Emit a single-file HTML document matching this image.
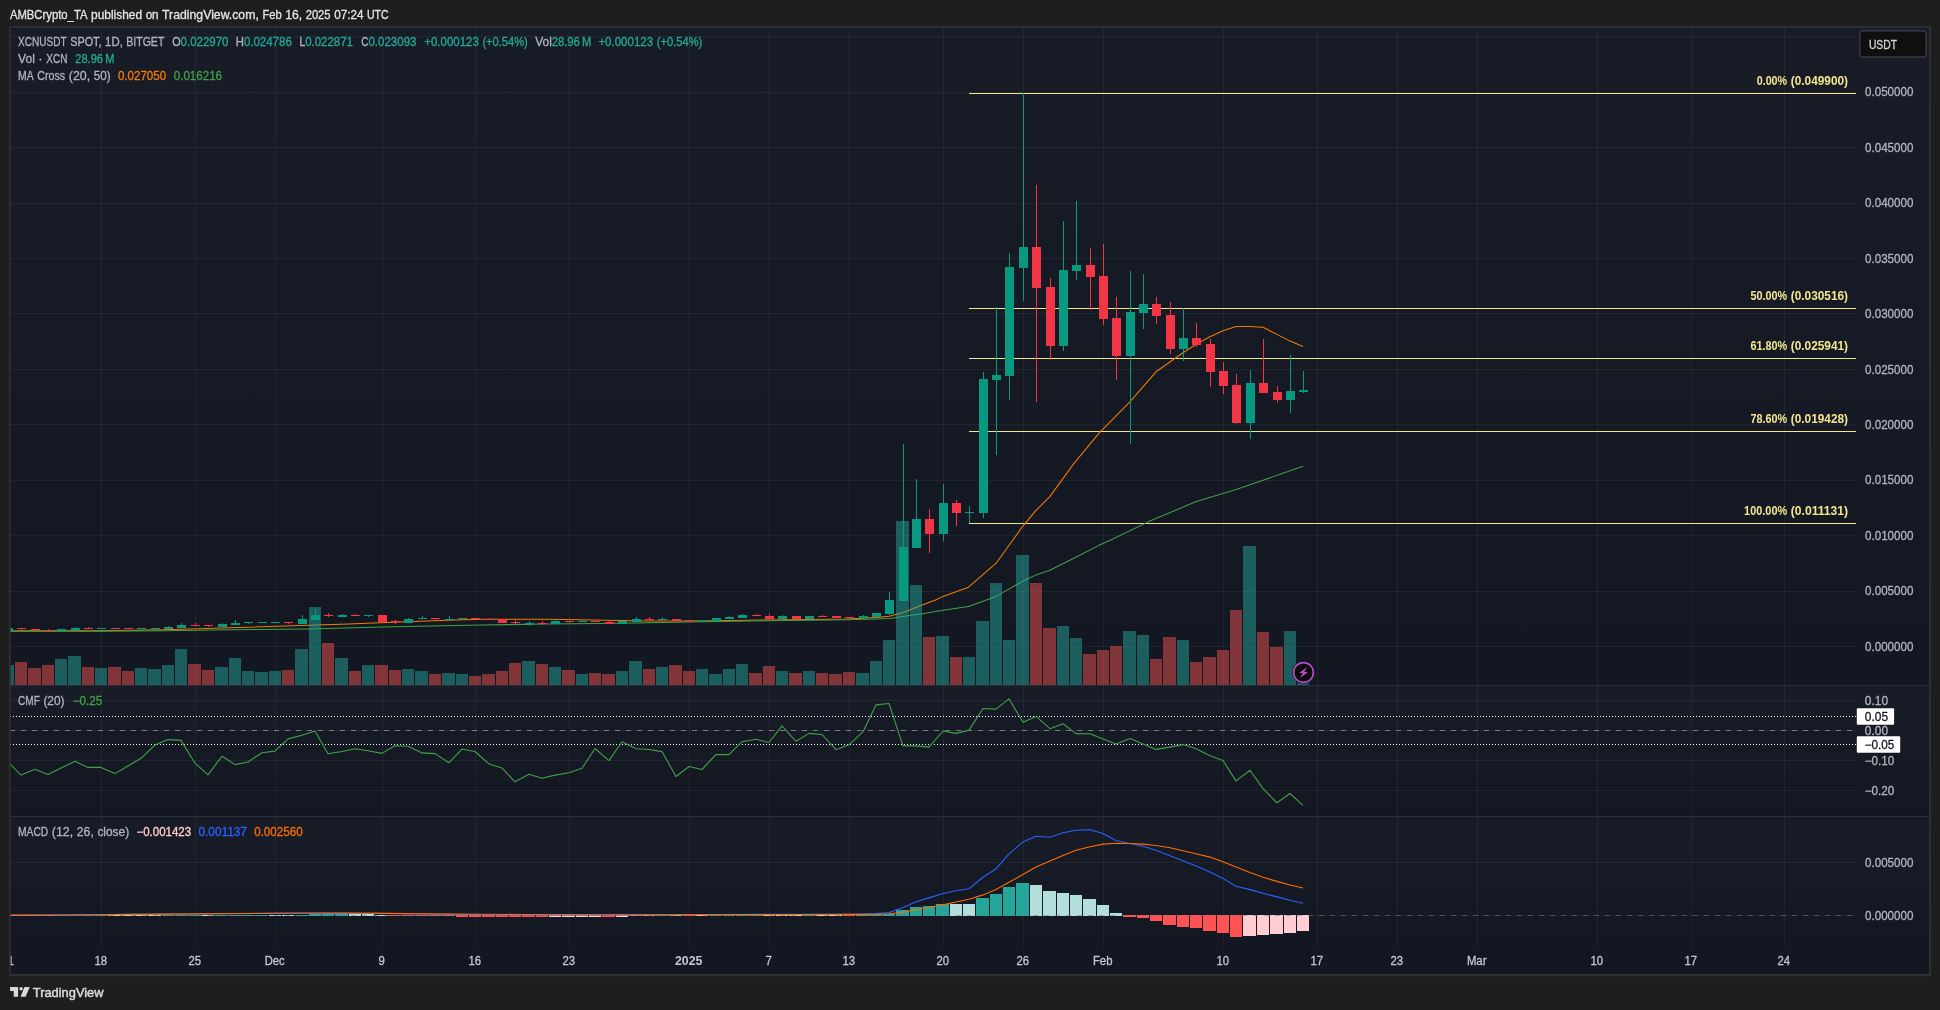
<!DOCTYPE html>
<html lang="en"><head><meta charset="utf-8"><title>XCNUSDT chart</title><style>html,body{margin:0;padding:0;background:#1e1e1e;overflow:hidden}svg{display:block;will-change:transform}text{white-space:pre}</style></head><body>
<svg width="1940" height="1010" viewBox="0 0 1940 1010" font-family="'Liberation Sans', sans-serif" font-size="12" stroke-width="0.3">
<defs>
<linearGradient id="pg" x1="0" y1="0" x2="0" y2="1"><stop offset="0" stop-color="#181c27"/><stop offset="1" stop-color="#131722"/></linearGradient>
<clipPath id="cm"><rect x="10.7" y="27.8" width="1845.3" height="657.2"/></clipPath>
<clipPath id="cc"><rect x="10.7" y="686" width="1845.3" height="130"/></clipPath>
<clipPath id="cd"><rect x="10.7" y="817" width="1845.3" height="130"/></clipPath>
<clipPath id="ct"><rect x="10.7" y="947" width="1845.3" height="27.0"/></clipPath>
</defs>
<rect x="0" y="0" width="1940" height="1010" fill="#1e1e1e"/>
<rect x="9.1" y="26.1" width="1921.8" height="950.2" fill="#303030"/>
<rect x="10.7" y="27.8" width="1918.3" height="657.2" fill="url(#pg)"/>
<rect x="10.7" y="685" width="1918.3" height="1" fill="#2a2e39"/>
<rect x="10.7" y="686" width="1918.3" height="130" fill="url(#pg)"/>
<rect x="10.7" y="816" width="1918.3" height="1" fill="#2a2e39"/>
<rect x="10.7" y="817" width="1918.3" height="130" fill="url(#pg)"/>
<rect x="10.7" y="947" width="1918.3" height="27" fill="#131722"/>
<g shape-rendering="crispEdges">
<rect x="101" y="28" width="1" height="657" fill="rgba(240,243,250,0.06)"/>
<rect x="101" y="686" width="1" height="130" fill="rgba(240,243,250,0.06)"/>
<rect x="101" y="817" width="1" height="130" fill="rgba(240,243,250,0.06)"/>
<rect x="195" y="28" width="1" height="657" fill="rgba(240,243,250,0.06)"/>
<rect x="195" y="686" width="1" height="130" fill="rgba(240,243,250,0.06)"/>
<rect x="195" y="817" width="1" height="130" fill="rgba(240,243,250,0.06)"/>
<rect x="275" y="28" width="1" height="657" fill="rgba(240,243,250,0.06)"/>
<rect x="275" y="686" width="1" height="130" fill="rgba(240,243,250,0.06)"/>
<rect x="275" y="817" width="1" height="130" fill="rgba(240,243,250,0.06)"/>
<rect x="382" y="28" width="1" height="657" fill="rgba(240,243,250,0.06)"/>
<rect x="382" y="686" width="1" height="130" fill="rgba(240,243,250,0.06)"/>
<rect x="382" y="817" width="1" height="130" fill="rgba(240,243,250,0.06)"/>
<rect x="475" y="28" width="1" height="657" fill="rgba(240,243,250,0.06)"/>
<rect x="475" y="686" width="1" height="130" fill="rgba(240,243,250,0.06)"/>
<rect x="475" y="817" width="1" height="130" fill="rgba(240,243,250,0.06)"/>
<rect x="569" y="28" width="1" height="657" fill="rgba(240,243,250,0.06)"/>
<rect x="569" y="686" width="1" height="130" fill="rgba(240,243,250,0.06)"/>
<rect x="569" y="817" width="1" height="130" fill="rgba(240,243,250,0.06)"/>
<rect x="689" y="28" width="1" height="657" fill="rgba(240,243,250,0.06)"/>
<rect x="689" y="686" width="1" height="130" fill="rgba(240,243,250,0.06)"/>
<rect x="689" y="817" width="1" height="130" fill="rgba(240,243,250,0.06)"/>
<rect x="769" y="28" width="1" height="657" fill="rgba(240,243,250,0.06)"/>
<rect x="769" y="686" width="1" height="130" fill="rgba(240,243,250,0.06)"/>
<rect x="769" y="817" width="1" height="130" fill="rgba(240,243,250,0.06)"/>
<rect x="849" y="28" width="1" height="657" fill="rgba(240,243,250,0.06)"/>
<rect x="849" y="686" width="1" height="130" fill="rgba(240,243,250,0.06)"/>
<rect x="849" y="817" width="1" height="130" fill="rgba(240,243,250,0.06)"/>
<rect x="943" y="28" width="1" height="657" fill="rgba(240,243,250,0.06)"/>
<rect x="943" y="686" width="1" height="130" fill="rgba(240,243,250,0.06)"/>
<rect x="943" y="817" width="1" height="130" fill="rgba(240,243,250,0.06)"/>
<rect x="1023" y="28" width="1" height="657" fill="rgba(240,243,250,0.06)"/>
<rect x="1023" y="686" width="1" height="130" fill="rgba(240,243,250,0.06)"/>
<rect x="1023" y="817" width="1" height="130" fill="rgba(240,243,250,0.06)"/>
<rect x="1103" y="28" width="1" height="657" fill="rgba(240,243,250,0.06)"/>
<rect x="1103" y="686" width="1" height="130" fill="rgba(240,243,250,0.06)"/>
<rect x="1103" y="817" width="1" height="130" fill="rgba(240,243,250,0.06)"/>
<rect x="1223" y="28" width="1" height="657" fill="rgba(240,243,250,0.06)"/>
<rect x="1223" y="686" width="1" height="130" fill="rgba(240,243,250,0.06)"/>
<rect x="1223" y="817" width="1" height="130" fill="rgba(240,243,250,0.06)"/>
<rect x="1317" y="28" width="1" height="657" fill="rgba(240,243,250,0.06)"/>
<rect x="1317" y="686" width="1" height="130" fill="rgba(240,243,250,0.06)"/>
<rect x="1317" y="817" width="1" height="130" fill="rgba(240,243,250,0.06)"/>
<rect x="1397" y="28" width="1" height="657" fill="rgba(240,243,250,0.06)"/>
<rect x="1397" y="686" width="1" height="130" fill="rgba(240,243,250,0.06)"/>
<rect x="1397" y="817" width="1" height="130" fill="rgba(240,243,250,0.06)"/>
<rect x="1477" y="28" width="1" height="657" fill="rgba(240,243,250,0.06)"/>
<rect x="1477" y="686" width="1" height="130" fill="rgba(240,243,250,0.06)"/>
<rect x="1477" y="817" width="1" height="130" fill="rgba(240,243,250,0.06)"/>
<rect x="1597" y="28" width="1" height="657" fill="rgba(240,243,250,0.06)"/>
<rect x="1597" y="686" width="1" height="130" fill="rgba(240,243,250,0.06)"/>
<rect x="1597" y="817" width="1" height="130" fill="rgba(240,243,250,0.06)"/>
<rect x="1691" y="28" width="1" height="657" fill="rgba(240,243,250,0.06)"/>
<rect x="1691" y="686" width="1" height="130" fill="rgba(240,243,250,0.06)"/>
<rect x="1691" y="817" width="1" height="130" fill="rgba(240,243,250,0.06)"/>
<rect x="1784" y="28" width="1" height="657" fill="rgba(240,243,250,0.06)"/>
<rect x="1784" y="686" width="1" height="130" fill="rgba(240,243,250,0.06)"/>
<rect x="1784" y="817" width="1" height="130" fill="rgba(240,243,250,0.06)"/>
<rect x="11" y="36" width="1845" height="1" fill="rgba(240,243,250,0.06)"/>
<rect x="11" y="92" width="1845" height="1" fill="rgba(240,243,250,0.06)"/>
<rect x="11" y="147" width="1845" height="1" fill="rgba(240,243,250,0.06)"/>
<rect x="11" y="203" width="1845" height="1" fill="rgba(240,243,250,0.06)"/>
<rect x="11" y="258" width="1845" height="1" fill="rgba(240,243,250,0.06)"/>
<rect x="11" y="313" width="1845" height="1" fill="rgba(240,243,250,0.06)"/>
<rect x="11" y="369" width="1845" height="1" fill="rgba(240,243,250,0.06)"/>
<rect x="11" y="424" width="1845" height="1" fill="rgba(240,243,250,0.06)"/>
<rect x="11" y="480" width="1845" height="1" fill="rgba(240,243,250,0.06)"/>
<rect x="11" y="535" width="1845" height="1" fill="rgba(240,243,250,0.06)"/>
<rect x="11" y="591" width="1845" height="1" fill="rgba(240,243,250,0.06)"/>
<rect x="11" y="646" width="1845" height="1" fill="rgba(240,243,250,0.06)"/>
<rect x="11" y="700" width="1845" height="1" fill="rgba(240,243,250,0.06)"/>
<rect x="11" y="730" width="1845" height="1" fill="rgba(240,243,250,0.06)"/>
<rect x="11" y="760" width="1845" height="1" fill="rgba(240,243,250,0.06)"/>
<rect x="11" y="790" width="1845" height="1" fill="rgba(240,243,250,0.06)"/>
<rect x="11" y="862" width="1845" height="1" fill="rgba(240,243,250,0.06)"/>
<rect x="11" y="915" width="1845" height="1" fill="rgba(240,243,250,0.06)"/>
</g>
<g clip-path="url(#cm)">
<g shape-rendering="crispEdges">
<rect x="969" y="93" width="887" height="1" fill="#f4e68e"/>
<rect x="969" y="308" width="887" height="1" fill="#f4e68e"/>
<rect x="969" y="358" width="887" height="1" fill="#f4e68e"/>
<rect x="969" y="431" width="887" height="1" fill="#f4e68e"/>
<rect x="969" y="523" width="887" height="1" fill="#f4e68e"/>
</g>
<polyline points="9.7,630.9 98.5,630.7 164.4,629.8 230.4,627.8 308.0,625.2 349.0,624.0 398.5,622.0 448.0,620.2 480.9,619.3 546.9,619.2 579.9,619.7 619.3,620.5 649.0,621.0 688.6,621.0 731.5,620.5 764.4,620.0 813.9,619.4 846.9,619.0 875.7,617.4 881.9,616.9 889.3,616.2 895.1,614.7 901.7,612.9 909.1,610.2 921.5,605.3 935.5,600.0 943.0,596.4 968.5,587.2 996.1,563.2 1023.1,525.8 1036.0,510.4 1049.8,496.6 1074.4,462.9 1099.5,432.7 1129.9,401.9 1156.0,371.8 1183.0,352.8 1196.2,344.2 1210.0,336.8 1222.9,330.7 1236.1,326.4 1249.9,326.4 1263.1,327.3 1276.9,334.4 1290.1,341.1 1303.0,346.6" fill="none" stroke="#f57c00" stroke-width="1.05" stroke-linejoin="round"/>
<polyline points="9.7,631.2 98.5,631.1 164.4,630.7 230.4,629.8 308.0,628.9 382.0,626.9 480.9,625.1 546.9,624.0 599.5,623.6 649.0,622.7 688.6,622.0 764.4,620.7 846.9,619.8 875.7,619.0 889.3,618.5 895.1,617.7 909.1,615.6 921.5,613.9 935.5,611.6 943.0,610.2 968.5,606.5 996.1,596.4 1023.1,581.0 1036.0,574.9 1049.8,570.3 1074.4,558.0 1099.5,545.1 1111.8,539.4 1148.6,521.6 1196.2,501.6 1236.1,489.4 1263.1,480.2 1303.0,466.3" fill="none" stroke="#43a047" stroke-width="1.05" stroke-linejoin="round"/>
<g shape-rendering="crispEdges">
<rect x="1" y="665" width="13" height="20" fill="rgba(38,166,154,0.5)"/>
<rect x="15" y="662" width="12" height="23" fill="rgba(239,83,80,0.5)"/>
<rect x="28" y="668" width="13" height="17" fill="rgba(239,83,80,0.5)"/>
<rect x="42" y="665" width="12" height="20" fill="rgba(239,83,80,0.5)"/>
<rect x="55" y="659" width="12" height="26" fill="rgba(38,166,154,0.5)"/>
<rect x="68" y="656" width="13" height="29" fill="rgba(38,166,154,0.5)"/>
<rect x="82" y="667" width="12" height="18" fill="rgba(239,83,80,0.5)"/>
<rect x="95" y="668" width="12" height="17" fill="rgba(38,166,154,0.5)"/>
<rect x="108" y="667" width="13" height="18" fill="rgba(239,83,80,0.5)"/>
<rect x="122" y="671" width="12" height="14" fill="rgba(239,83,80,0.5)"/>
<rect x="135" y="668" width="12" height="17" fill="rgba(38,166,154,0.5)"/>
<rect x="148" y="669" width="13" height="16" fill="rgba(38,166,154,0.5)"/>
<rect x="162" y="665" width="12" height="20" fill="rgba(38,166,154,0.5)"/>
<rect x="175" y="649" width="12" height="36" fill="rgba(38,166,154,0.5)"/>
<rect x="188" y="664" width="13" height="21" fill="rgba(239,83,80,0.5)"/>
<rect x="202" y="670" width="12" height="15" fill="rgba(239,83,80,0.5)"/>
<rect x="215" y="667" width="13" height="18" fill="rgba(38,166,154,0.5)"/>
<rect x="229" y="658" width="12" height="27" fill="rgba(38,166,154,0.5)"/>
<rect x="242" y="671" width="12" height="14" fill="rgba(38,166,154,0.5)"/>
<rect x="255" y="672" width="13" height="13" fill="rgba(38,166,154,0.5)"/>
<rect x="269" y="671" width="12" height="14" fill="rgba(38,166,154,0.5)"/>
<rect x="282" y="670" width="12" height="15" fill="rgba(239,83,80,0.5)"/>
<rect x="295" y="649" width="13" height="36" fill="rgba(38,166,154,0.5)"/>
<rect x="309" y="607" width="12" height="78" fill="rgba(38,166,154,0.5)"/>
<rect x="322" y="643" width="12" height="42" fill="rgba(239,83,80,0.5)"/>
<rect x="335" y="658" width="13" height="27" fill="rgba(38,166,154,0.5)"/>
<rect x="349" y="671" width="12" height="14" fill="rgba(239,83,80,0.5)"/>
<rect x="362" y="665" width="12" height="20" fill="rgba(38,166,154,0.5)"/>
<rect x="375" y="665" width="13" height="20" fill="rgba(239,83,80,0.5)"/>
<rect x="389" y="670" width="12" height="15" fill="rgba(239,83,80,0.5)"/>
<rect x="402" y="669" width="12" height="16" fill="rgba(38,166,154,0.5)"/>
<rect x="415" y="671" width="13" height="14" fill="rgba(38,166,154,0.5)"/>
<rect x="429" y="674" width="12" height="11" fill="rgba(239,83,80,0.5)"/>
<rect x="442" y="673" width="13" height="12" fill="rgba(38,166,154,0.5)"/>
<rect x="456" y="674" width="12" height="11" fill="rgba(38,166,154,0.5)"/>
<rect x="469" y="676" width="12" height="9" fill="rgba(239,83,80,0.5)"/>
<rect x="482" y="674" width="13" height="11" fill="rgba(239,83,80,0.5)"/>
<rect x="496" y="671" width="12" height="14" fill="rgba(239,83,80,0.5)"/>
<rect x="509" y="663" width="12" height="22" fill="rgba(239,83,80,0.5)"/>
<rect x="522" y="661" width="13" height="24" fill="rgba(38,166,154,0.5)"/>
<rect x="536" y="664" width="12" height="21" fill="rgba(239,83,80,0.5)"/>
<rect x="549" y="667" width="12" height="18" fill="rgba(38,166,154,0.5)"/>
<rect x="562" y="670" width="13" height="15" fill="rgba(239,83,80,0.5)"/>
<rect x="576" y="674" width="12" height="11" fill="rgba(38,166,154,0.5)"/>
<rect x="589" y="673" width="12" height="12" fill="rgba(239,83,80,0.5)"/>
<rect x="602" y="674" width="13" height="11" fill="rgba(239,83,80,0.5)"/>
<rect x="616" y="671" width="12" height="14" fill="rgba(38,166,154,0.5)"/>
<rect x="629" y="661" width="13" height="24" fill="rgba(38,166,154,0.5)"/>
<rect x="643" y="669" width="12" height="16" fill="rgba(239,83,80,0.5)"/>
<rect x="656" y="667" width="12" height="18" fill="rgba(38,166,154,0.5)"/>
<rect x="669" y="665" width="13" height="20" fill="rgba(239,83,80,0.5)"/>
<rect x="683" y="671" width="12" height="14" fill="rgba(239,83,80,0.5)"/>
<rect x="696" y="669" width="12" height="16" fill="rgba(38,166,154,0.5)"/>
<rect x="709" y="674" width="13" height="11" fill="rgba(38,166,154,0.5)"/>
<rect x="723" y="669" width="12" height="16" fill="rgba(38,166,154,0.5)"/>
<rect x="736" y="664" width="12" height="21" fill="rgba(38,166,154,0.5)"/>
<rect x="749" y="673" width="13" height="12" fill="rgba(239,83,80,0.5)"/>
<rect x="763" y="666" width="12" height="19" fill="rgba(239,83,80,0.5)"/>
<rect x="776" y="671" width="12" height="14" fill="rgba(38,166,154,0.5)"/>
<rect x="789" y="673" width="13" height="12" fill="rgba(239,83,80,0.5)"/>
<rect x="803" y="671" width="12" height="14" fill="rgba(38,166,154,0.5)"/>
<rect x="816" y="673" width="12" height="12" fill="rgba(239,83,80,0.5)"/>
<rect x="829" y="674" width="13" height="11" fill="rgba(239,83,80,0.5)"/>
<rect x="843" y="672" width="12" height="13" fill="rgba(239,83,80,0.5)"/>
<rect x="856" y="673" width="13" height="12" fill="rgba(38,166,154,0.5)"/>
<rect x="870" y="661" width="12" height="24" fill="rgba(38,166,154,0.5)"/>
<rect x="883" y="640" width="12" height="45" fill="rgba(38,166,154,0.5)"/>
<rect x="896" y="521" width="13" height="164" fill="rgba(38,166,154,0.5)"/>
<rect x="910" y="585" width="12" height="100" fill="rgba(38,166,154,0.5)"/>
<rect x="923" y="637" width="12" height="48" fill="rgba(239,83,80,0.5)"/>
<rect x="936" y="636" width="13" height="49" fill="rgba(38,166,154,0.5)"/>
<rect x="950" y="657" width="12" height="28" fill="rgba(239,83,80,0.5)"/>
<rect x="963" y="657" width="12" height="28" fill="rgba(38,166,154,0.5)"/>
<rect x="976" y="621" width="13" height="64" fill="rgba(38,166,154,0.5)"/>
<rect x="990" y="583" width="12" height="102" fill="rgba(38,166,154,0.5)"/>
<rect x="1003" y="640" width="12" height="45" fill="rgba(38,166,154,0.5)"/>
<rect x="1016" y="555" width="13" height="130" fill="rgba(38,166,154,0.5)"/>
<rect x="1030" y="583" width="12" height="102" fill="rgba(239,83,80,0.5)"/>
<rect x="1043" y="628" width="13" height="57" fill="rgba(239,83,80,0.5)"/>
<rect x="1057" y="626" width="12" height="59" fill="rgba(38,166,154,0.5)"/>
<rect x="1070" y="638" width="12" height="47" fill="rgba(38,166,154,0.5)"/>
<rect x="1083" y="654" width="13" height="31" fill="rgba(239,83,80,0.5)"/>
<rect x="1097" y="650" width="12" height="35" fill="rgba(239,83,80,0.5)"/>
<rect x="1110" y="646" width="12" height="39" fill="rgba(239,83,80,0.5)"/>
<rect x="1123" y="631" width="13" height="54" fill="rgba(38,166,154,0.5)"/>
<rect x="1137" y="635" width="12" height="50" fill="rgba(38,166,154,0.5)"/>
<rect x="1150" y="659" width="12" height="26" fill="rgba(239,83,80,0.5)"/>
<rect x="1163" y="637" width="13" height="48" fill="rgba(239,83,80,0.5)"/>
<rect x="1177" y="640" width="12" height="45" fill="rgba(38,166,154,0.5)"/>
<rect x="1190" y="662" width="12" height="23" fill="rgba(239,83,80,0.5)"/>
<rect x="1203" y="657" width="13" height="28" fill="rgba(239,83,80,0.5)"/>
<rect x="1217" y="650" width="12" height="35" fill="rgba(239,83,80,0.5)"/>
<rect x="1230" y="610" width="12" height="75" fill="rgba(239,83,80,0.5)"/>
<rect x="1243" y="546" width="13" height="139" fill="rgba(38,166,154,0.5)"/>
<rect x="1257" y="632" width="12" height="53" fill="rgba(239,83,80,0.5)"/>
<rect x="1270" y="647" width="13" height="38" fill="rgba(239,83,80,0.5)"/>
<rect x="1284" y="631" width="12" height="54" fill="rgba(38,166,154,0.5)"/>
<rect x="1297" y="683" width="12" height="2" fill="rgba(38,166,154,0.5)"/>
</g>
<g shape-rendering="crispEdges">
<rect x="4" y="628" width="9" height="3" fill="#089981"/>
<rect x="21" y="628" width="1" height="2" fill="#f23645"/>
<rect x="17" y="628" width="9" height="1" fill="#f23645"/>
<rect x="35" y="629" width="1" height="2" fill="#f23645"/>
<rect x="31" y="629" width="9" height="1" fill="#f23645"/>
<rect x="48" y="629" width="1" height="2" fill="#f23645"/>
<rect x="44" y="630" width="9" height="1" fill="#f23645"/>
<rect x="57" y="629" width="9" height="2" fill="#089981"/>
<rect x="75" y="627" width="1" height="3" fill="#089981"/>
<rect x="71" y="628" width="9" height="2" fill="#089981"/>
<rect x="88" y="627" width="1" height="2" fill="#f23645"/>
<rect x="84" y="628" width="9" height="1" fill="#f23645"/>
<rect x="97" y="628" width="9" height="1" fill="#089981"/>
<rect x="111" y="628" width="9" height="1" fill="#f23645"/>
<rect x="124" y="628" width="9" height="1" fill="#f23645"/>
<rect x="137" y="628" width="9" height="1" fill="#089981"/>
<rect x="151" y="628" width="9" height="1" fill="#089981"/>
<rect x="168" y="626" width="1" height="3" fill="#089981"/>
<rect x="164" y="627" width="9" height="2" fill="#089981"/>
<rect x="181" y="623" width="1" height="5" fill="#089981"/>
<rect x="177" y="625" width="9" height="3" fill="#089981"/>
<rect x="195" y="623" width="1" height="3" fill="#f23645"/>
<rect x="191" y="625" width="9" height="1" fill="#f23645"/>
<rect x="208" y="625" width="1" height="2" fill="#f23645"/>
<rect x="204" y="625" width="9" height="1" fill="#f23645"/>
<rect x="222" y="623" width="1" height="4" fill="#089981"/>
<rect x="218" y="624" width="9" height="3" fill="#089981"/>
<rect x="235" y="620" width="1" height="5" fill="#089981"/>
<rect x="231" y="623" width="9" height="2" fill="#089981"/>
<rect x="248" y="622" width="1" height="2" fill="#089981"/>
<rect x="244" y="622" width="9" height="1" fill="#089981"/>
<rect x="258" y="622" width="9" height="1" fill="#089981"/>
<rect x="271" y="622" width="9" height="1" fill="#089981"/>
<rect x="288" y="622" width="1" height="2" fill="#f23645"/>
<rect x="284" y="622" width="9" height="1" fill="#f23645"/>
<rect x="302" y="615" width="1" height="9" fill="#089981"/>
<rect x="298" y="619" width="9" height="5" fill="#089981"/>
<rect x="315" y="609" width="1" height="11" fill="#089981"/>
<rect x="311" y="615" width="9" height="5" fill="#089981"/>
<rect x="328" y="613" width="1" height="4" fill="#f23645"/>
<rect x="324" y="615" width="9" height="1" fill="#f23645"/>
<rect x="342" y="614" width="1" height="3" fill="#089981"/>
<rect x="338" y="615" width="9" height="2" fill="#089981"/>
<rect x="355" y="614" width="1" height="2" fill="#f23645"/>
<rect x="351" y="615" width="9" height="1" fill="#f23645"/>
<rect x="368" y="615" width="1" height="2" fill="#089981"/>
<rect x="364" y="615" width="9" height="1" fill="#089981"/>
<rect x="378" y="615" width="9" height="7" fill="#f23645"/>
<rect x="395" y="620" width="1" height="4" fill="#f23645"/>
<rect x="391" y="621" width="9" height="1" fill="#f23645"/>
<rect x="408" y="618" width="1" height="5" fill="#089981"/>
<rect x="404" y="619" width="9" height="4" fill="#089981"/>
<rect x="422" y="616" width="1" height="3" fill="#089981"/>
<rect x="418" y="618" width="9" height="1" fill="#089981"/>
<rect x="435" y="618" width="1" height="2" fill="#f23645"/>
<rect x="431" y="618" width="9" height="1" fill="#f23645"/>
<rect x="449" y="616" width="1" height="4" fill="#089981"/>
<rect x="445" y="619" width="9" height="1" fill="#089981"/>
<rect x="458" y="618" width="9" height="1" fill="#089981"/>
<rect x="471" y="618" width="9" height="1" fill="#f23645"/>
<rect x="489" y="618" width="1" height="2" fill="#f23645"/>
<rect x="485" y="619" width="9" height="1" fill="#f23645"/>
<rect x="498" y="619" width="9" height="4" fill="#f23645"/>
<rect x="515" y="620" width="1" height="4" fill="#f23645"/>
<rect x="511" y="622" width="9" height="1" fill="#f23645"/>
<rect x="529" y="621" width="1" height="5" fill="#089981"/>
<rect x="525" y="623" width="9" height="1" fill="#089981"/>
<rect x="542" y="621" width="1" height="3" fill="#f23645"/>
<rect x="538" y="623" width="9" height="1" fill="#f23645"/>
<rect x="555" y="620" width="1" height="4" fill="#089981"/>
<rect x="551" y="621" width="9" height="3" fill="#089981"/>
<rect x="569" y="621" width="1" height="2" fill="#f23645"/>
<rect x="565" y="621" width="9" height="1" fill="#f23645"/>
<rect x="582" y="620" width="1" height="2" fill="#089981"/>
<rect x="578" y="621" width="9" height="1" fill="#089981"/>
<rect x="591" y="621" width="9" height="1" fill="#f23645"/>
<rect x="609" y="621" width="1" height="3" fill="#f23645"/>
<rect x="605" y="622" width="9" height="2" fill="#f23645"/>
<rect x="618" y="621" width="9" height="3" fill="#089981"/>
<rect x="636" y="617" width="1" height="5" fill="#089981"/>
<rect x="632" y="619" width="9" height="3" fill="#089981"/>
<rect x="649" y="617" width="1" height="3" fill="#f23645"/>
<rect x="645" y="619" width="9" height="1" fill="#f23645"/>
<rect x="662" y="617" width="1" height="3" fill="#089981"/>
<rect x="658" y="619" width="9" height="1" fill="#089981"/>
<rect x="672" y="619" width="9" height="2" fill="#f23645"/>
<rect x="689" y="620" width="1" height="2" fill="#f23645"/>
<rect x="685" y="620" width="9" height="1" fill="#f23645"/>
<rect x="698" y="620" width="9" height="1" fill="#089981"/>
<rect x="712" y="618" width="9" height="3" fill="#089981"/>
<rect x="729" y="616" width="1" height="3" fill="#089981"/>
<rect x="725" y="617" width="9" height="2" fill="#089981"/>
<rect x="742" y="614" width="1" height="4" fill="#089981"/>
<rect x="738" y="615" width="9" height="3" fill="#089981"/>
<rect x="756" y="614" width="1" height="2" fill="#f23645"/>
<rect x="752" y="615" width="9" height="1" fill="#f23645"/>
<rect x="769" y="614" width="1" height="5" fill="#f23645"/>
<rect x="765" y="616" width="9" height="3" fill="#f23645"/>
<rect x="782" y="615" width="1" height="4" fill="#089981"/>
<rect x="778" y="616" width="9" height="3" fill="#089981"/>
<rect x="792" y="616" width="9" height="3" fill="#f23645"/>
<rect x="805" y="616" width="9" height="3" fill="#089981"/>
<rect x="822" y="615" width="1" height="2" fill="#f23645"/>
<rect x="818" y="616" width="9" height="1" fill="#f23645"/>
<rect x="832" y="616" width="9" height="2" fill="#f23645"/>
<rect x="849" y="617" width="1" height="2" fill="#f23645"/>
<rect x="845" y="617" width="9" height="1" fill="#f23645"/>
<rect x="863" y="615" width="1" height="3" fill="#089981"/>
<rect x="859" y="616" width="9" height="2" fill="#089981"/>
<rect x="872" y="613" width="9" height="4" fill="#089981"/>
<rect x="889" y="592" width="1" height="23" fill="#089981"/>
<rect x="885" y="600" width="9" height="14" fill="#089981"/>
<rect x="903" y="444" width="1" height="157" fill="#089981"/>
<rect x="899" y="547" width="9" height="54" fill="#089981"/>
<rect x="916" y="479" width="1" height="69" fill="#089981"/>
<rect x="912" y="519" width="9" height="29" fill="#089981"/>
<rect x="929" y="509" width="1" height="44" fill="#f23645"/>
<rect x="925" y="519" width="9" height="15" fill="#f23645"/>
<rect x="943" y="484" width="1" height="57" fill="#089981"/>
<rect x="939" y="503" width="9" height="31" fill="#089981"/>
<rect x="956" y="500" width="1" height="26" fill="#f23645"/>
<rect x="952" y="503" width="9" height="10" fill="#f23645"/>
<rect x="969" y="506" width="1" height="17" fill="#089981"/>
<rect x="965" y="512" width="9" height="1" fill="#089981"/>
<rect x="983" y="372" width="1" height="146" fill="#089981"/>
<rect x="979" y="379" width="9" height="134" fill="#089981"/>
<rect x="996" y="307" width="1" height="148" fill="#089981"/>
<rect x="992" y="375" width="9" height="5" fill="#089981"/>
<rect x="1009" y="253" width="1" height="147" fill="#089981"/>
<rect x="1005" y="267" width="9" height="109" fill="#089981"/>
<rect x="1023" y="93" width="1" height="208" fill="#089981"/>
<rect x="1019" y="247" width="9" height="21" fill="#089981"/>
<rect x="1036" y="185" width="1" height="217" fill="#f23645"/>
<rect x="1032" y="247" width="9" height="41" fill="#f23645"/>
<rect x="1050" y="278" width="1" height="82" fill="#f23645"/>
<rect x="1046" y="287" width="9" height="59" fill="#f23645"/>
<rect x="1063" y="221" width="1" height="130" fill="#089981"/>
<rect x="1059" y="270" width="9" height="76" fill="#089981"/>
<rect x="1076" y="201" width="1" height="79" fill="#089981"/>
<rect x="1072" y="265" width="9" height="6" fill="#089981"/>
<rect x="1090" y="248" width="1" height="62" fill="#f23645"/>
<rect x="1086" y="265" width="9" height="12" fill="#f23645"/>
<rect x="1103" y="244" width="1" height="81" fill="#f23645"/>
<rect x="1099" y="276" width="9" height="43" fill="#f23645"/>
<rect x="1116" y="297" width="1" height="83" fill="#f23645"/>
<rect x="1112" y="318" width="9" height="38" fill="#f23645"/>
<rect x="1130" y="271" width="1" height="173" fill="#089981"/>
<rect x="1126" y="312" width="9" height="44" fill="#089981"/>
<rect x="1143" y="274" width="1" height="55" fill="#089981"/>
<rect x="1139" y="304" width="9" height="9" fill="#089981"/>
<rect x="1156" y="297" width="1" height="27" fill="#f23645"/>
<rect x="1152" y="304" width="9" height="12" fill="#f23645"/>
<rect x="1170" y="302" width="1" height="52" fill="#f23645"/>
<rect x="1166" y="315" width="9" height="34" fill="#f23645"/>
<rect x="1183" y="308" width="1" height="53" fill="#089981"/>
<rect x="1179" y="338" width="9" height="11" fill="#089981"/>
<rect x="1196" y="323" width="1" height="24" fill="#f23645"/>
<rect x="1192" y="338" width="9" height="7" fill="#f23645"/>
<rect x="1210" y="339" width="1" height="48" fill="#f23645"/>
<rect x="1206" y="344" width="9" height="28" fill="#f23645"/>
<rect x="1223" y="362" width="1" height="32" fill="#f23645"/>
<rect x="1219" y="371" width="9" height="15" fill="#f23645"/>
<rect x="1236" y="374" width="1" height="50" fill="#f23645"/>
<rect x="1232" y="385" width="9" height="38" fill="#f23645"/>
<rect x="1250" y="370" width="1" height="69" fill="#089981"/>
<rect x="1246" y="383" width="9" height="40" fill="#089981"/>
<rect x="1263" y="339" width="1" height="54" fill="#f23645"/>
<rect x="1259" y="383" width="9" height="10" fill="#f23645"/>
<rect x="1277" y="386" width="1" height="17" fill="#f23645"/>
<rect x="1273" y="392" width="9" height="8" fill="#f23645"/>
<rect x="1290" y="355" width="1" height="58" fill="#089981"/>
<rect x="1286" y="391" width="9" height="9" fill="#089981"/>
<rect x="1303" y="371" width="1" height="22" fill="#089981"/>
<rect x="1299" y="390" width="9" height="2" fill="#089981"/>
</g>
<text x="1790.77" y="85.10" fill="#f4e68e" stroke="#f4e68e" font-weight="bold" textLength="57.23" lengthAdjust="spacingAndGlyphs" stroke-width="0">(0.049900)</text>
<text x="1756.69" y="85.10" fill="#f4e68e" stroke="#f4e68e" font-weight="bold" textLength="30.47" lengthAdjust="spacingAndGlyphs" stroke-width="0">0.00%</text>
<text x="1790.77" y="300.10" fill="#f4e68e" stroke="#f4e68e" font-weight="bold" textLength="57.23" lengthAdjust="spacingAndGlyphs" stroke-width="0">(0.030516)</text>
<text x="1750.40" y="300.10" fill="#f4e68e" stroke="#f4e68e" font-weight="bold" textLength="36.76" lengthAdjust="spacingAndGlyphs" stroke-width="0">50.00%</text>
<text x="1790.77" y="350.10" fill="#f4e68e" stroke="#f4e68e" font-weight="bold" textLength="57.23" lengthAdjust="spacingAndGlyphs" stroke-width="0">(0.025941)</text>
<text x="1750.40" y="350.10" fill="#f4e68e" stroke="#f4e68e" font-weight="bold" textLength="36.76" lengthAdjust="spacingAndGlyphs" stroke-width="0">61.80%</text>
<text x="1790.77" y="423.10" fill="#f4e68e" stroke="#f4e68e" font-weight="bold" textLength="57.23" lengthAdjust="spacingAndGlyphs" stroke-width="0">(0.019428)</text>
<text x="1750.40" y="423.10" fill="#f4e68e" stroke="#f4e68e" font-weight="bold" textLength="36.76" lengthAdjust="spacingAndGlyphs" stroke-width="0">78.60%</text>
<text x="1790.77" y="515.10" fill="#f4e68e" stroke="#f4e68e" font-weight="bold" textLength="57.23" lengthAdjust="spacingAndGlyphs" stroke-width="0">(0.011131)</text>
<text x="1744.12" y="515.10" fill="#f4e68e" stroke="#f4e68e" font-weight="bold" textLength="43.04" lengthAdjust="spacingAndGlyphs" stroke-width="0">100.00%</text>
<g transform="translate(1303.5,672.5)"><circle r="11.2" fill="#10131c"/><circle r="9.9" fill="#0c0c0c" stroke="#b64ccd" stroke-width="1.7"/><polygon points="3.4,-5.4 -4.3,0.4 -0.6,0.7 -3.4,5.5 4.4,-0.3 0.8,-0.7" fill="#b64ccd"/></g>
</g>
<text x="18.10" y="46.20" fill="#b2b5be" stroke="#b2b5be" textLength="48.52" lengthAdjust="spacingAndGlyphs">XCNUSDT</text>
<text x="70.17" y="46.20" fill="#b2b5be" stroke="#b2b5be" textLength="31.37" lengthAdjust="spacingAndGlyphs">SPOT,</text>
<text x="105.09" y="46.20" fill="#b2b5be" stroke="#b2b5be" textLength="17.73" lengthAdjust="spacingAndGlyphs">1D,</text>
<text x="126.36" y="46.20" fill="#b2b5be" stroke="#b2b5be" textLength="37.94" lengthAdjust="spacingAndGlyphs">BITGET</text>
<text x="172.20" y="46.20" fill="#b2b5be" stroke="#b2b5be" textLength="8.40" lengthAdjust="spacingAndGlyphs">O</text>
<text x="180.60" y="46.20" fill="#22ab94" stroke="#22ab94" textLength="47.90" lengthAdjust="spacingAndGlyphs">0.022970</text>
<text x="235.70" y="46.20" fill="#b2b5be" stroke="#b2b5be" textLength="8.20" lengthAdjust="spacingAndGlyphs">H</text>
<text x="243.90" y="46.20" fill="#22ab94" stroke="#22ab94" textLength="47.90" lengthAdjust="spacingAndGlyphs">0.024786</text>
<text x="299.40" y="46.20" fill="#b2b5be" stroke="#b2b5be" textLength="5.80" lengthAdjust="spacingAndGlyphs">L</text>
<text x="305.20" y="46.20" fill="#22ab94" stroke="#22ab94" textLength="47.80" lengthAdjust="spacingAndGlyphs">0.022871</text>
<text x="361.20" y="46.20" fill="#b2b5be" stroke="#b2b5be" textLength="7.20" lengthAdjust="spacingAndGlyphs">C</text>
<text x="368.40" y="46.20" fill="#22ab94" stroke="#22ab94" textLength="48.10" lengthAdjust="spacingAndGlyphs">0.023093</text>
<text x="424.30" y="46.20" fill="#22ab94" stroke="#22ab94" textLength="54.51" lengthAdjust="spacingAndGlyphs">+0.000123</text>
<text x="482.40" y="46.20" fill="#22ab94" stroke="#22ab94" textLength="45.40" lengthAdjust="spacingAndGlyphs">(+0.54%)</text>
<text x="535.30" y="46.20" fill="#b2b5be" stroke="#b2b5be" textLength="16.50" lengthAdjust="spacingAndGlyphs">Vol</text>
<text x="551.80" y="46.20" fill="#22ab94" stroke="#22ab94" textLength="39.50" lengthAdjust="spacingAndGlyphs">28.96 M</text>
<text x="598.40" y="46.20" fill="#22ab94" stroke="#22ab94" textLength="54.72" lengthAdjust="spacingAndGlyphs">+0.000123</text>
<text x="656.73" y="46.20" fill="#22ab94" stroke="#22ab94" textLength="45.57" lengthAdjust="spacingAndGlyphs">(+0.54%)</text>
<text x="18.10" y="63.40" fill="#b2b5be" stroke="#b2b5be" textLength="16.73" lengthAdjust="spacingAndGlyphs">Vol</text>
<text x="38.38" y="63.40" fill="#b2b5be" stroke="#b2b5be" textLength="4.33" lengthAdjust="spacingAndGlyphs">·</text>
<text x="46.26" y="63.40" fill="#b2b5be" stroke="#b2b5be" textLength="21.14" lengthAdjust="spacingAndGlyphs">XCN</text>
<text x="75.30" y="63.40" fill="#22ab94" stroke="#22ab94" textLength="39.10" lengthAdjust="spacingAndGlyphs">28.96 M</text>
<text x="18.10" y="80.20" fill="#b2b5be" stroke="#b2b5be" textLength="15.56" lengthAdjust="spacingAndGlyphs">MA</text>
<text x="37.26" y="80.20" fill="#b2b5be" stroke="#b2b5be" textLength="27.95" lengthAdjust="spacingAndGlyphs">Cross</text>
<text x="68.81" y="80.20" fill="#b2b5be" stroke="#b2b5be" textLength="21.34" lengthAdjust="spacingAndGlyphs">(20,</text>
<text x="93.76" y="80.20" fill="#b2b5be" stroke="#b2b5be" textLength="16.94" lengthAdjust="spacingAndGlyphs">50)</text>
<text x="117.90" y="80.20" fill="#f57c00" stroke="#f57c00" textLength="48.30" lengthAdjust="spacingAndGlyphs">0.027050</text>
<text x="173.80" y="80.20" fill="#43a047" stroke="#43a047" textLength="48.20" lengthAdjust="spacingAndGlyphs">0.016216</text>
<text x="1865.00" y="96.20" fill="#b2b5be" stroke="#b2b5be" textLength="48.42" lengthAdjust="spacingAndGlyphs">0.050000</text>
<text x="1865.00" y="151.66" fill="#b2b5be" stroke="#b2b5be" textLength="48.42" lengthAdjust="spacingAndGlyphs">0.045000</text>
<text x="1865.00" y="207.12" fill="#b2b5be" stroke="#b2b5be" textLength="48.42" lengthAdjust="spacingAndGlyphs">0.040000</text>
<text x="1865.00" y="262.58" fill="#b2b5be" stroke="#b2b5be" textLength="48.42" lengthAdjust="spacingAndGlyphs">0.035000</text>
<text x="1865.00" y="318.04" fill="#b2b5be" stroke="#b2b5be" textLength="48.42" lengthAdjust="spacingAndGlyphs">0.030000</text>
<text x="1865.00" y="373.50" fill="#b2b5be" stroke="#b2b5be" textLength="48.42" lengthAdjust="spacingAndGlyphs">0.025000</text>
<text x="1865.00" y="428.96" fill="#b2b5be" stroke="#b2b5be" textLength="48.42" lengthAdjust="spacingAndGlyphs">0.020000</text>
<text x="1865.00" y="484.42" fill="#b2b5be" stroke="#b2b5be" textLength="48.42" lengthAdjust="spacingAndGlyphs">0.015000</text>
<text x="1865.00" y="539.88" fill="#b2b5be" stroke="#b2b5be" textLength="48.42" lengthAdjust="spacingAndGlyphs">0.010000</text>
<text x="1865.00" y="595.34" fill="#b2b5be" stroke="#b2b5be" textLength="48.42" lengthAdjust="spacingAndGlyphs">0.005000</text>
<text x="1865.00" y="650.80" fill="#b2b5be" stroke="#b2b5be" textLength="48.42" lengthAdjust="spacingAndGlyphs">0.000000</text>
<rect x="1859.8" y="30.8" width="66.4" height="26.2" rx="3.5" fill="#0f0f0f" stroke="#363a45" stroke-width="1.4"/>
<text x="1868.90" y="48.90" fill="#d6d6d6" stroke="#d6d6d6" textLength="28.10" lengthAdjust="spacingAndGlyphs">USDT</text>
<g clip-path="url(#cc)">
<line x1="10" y1="716.5" x2="1856" y2="716.5" stroke="#ffffff" stroke-width="1" stroke-dasharray="1 2"/>
<line x1="10" y1="744.5" x2="1856" y2="744.5" stroke="#ffffff" stroke-width="1" stroke-dasharray="1 2"/>
<line x1="10" y1="730.5" x2="1856" y2="730.5" stroke="#787b86" stroke-width="1" stroke-dasharray="5 6"/>
<polyline points="8.0,762.0 21.0,775.1 35.0,769.3 48.0,774.6 61.0,768.1 75.0,761.3 88.0,767.4 101.0,767.4 115.0,773.6 128.0,766.0 141.0,758.3 155.0,745.0 168.0,739.6 181.0,740.4 195.0,763.2 208.0,774.8 222.0,756.2 235.0,764.6 248.0,762.0 262.0,752.7 275.0,751.1 288.0,738.9 302.0,735.2 315.0,731.0 328.0,753.8 342.0,751.5 355.0,748.8 368.0,750.8 382.0,753.4 395.0,745.7 408.0,746.2 422.0,752.9 435.0,753.6 449.0,762.7 462.0,749.2 475.0,751.5 489.0,763.9 502.0,768.1 515.0,781.8 529.0,774.3 542.0,778.3 555.0,775.1 569.0,772.7 582.0,768.3 595.0,748.5 609.0,760.6 622.0,741.8 636.0,748.8 649.0,749.5 662.0,751.6 676.0,776.5 689.0,766.5 702.0,769.5 716.0,754.5 729.0,754.6 742.0,741.7 756.0,739.2 769.0,742.5 782.0,725.9 796.0,741.3 809.0,733.4 822.0,734.5 836.0,749.7 849.0,744.8 863.0,731.7 876.0,704.9 889.0,703.5 903.0,745.9 916.0,745.9 929.0,747.1 943.0,731.0 956.0,733.4 969.0,730.1 983.0,708.5 996.0,709.1 1009.0,698.9 1023.0,722.2 1036.0,716.4 1050.0,728.7 1063.0,723.8 1076.0,733.6 1090.0,733.8 1103.0,739.0 1116.0,744.1 1130.0,738.5 1143.0,744.1 1156.0,749.4 1170.0,747.1 1183.0,744.6 1196.0,748.8 1210.0,755.7 1223.0,760.6 1236.0,780.9 1250.0,770.2 1263.0,788.6 1277.0,802.8 1290.0,793.5 1303.0,805.3" fill="none" stroke="#43a047" stroke-width="1.1" stroke-linejoin="round"/>
</g>
<text x="18.10" y="705.20" fill="#b2b5be" stroke="#b2b5be" textLength="21.71" lengthAdjust="spacingAndGlyphs">CMF</text>
<text x="43.38" y="705.20" fill="#b2b5be" stroke="#b2b5be" textLength="21.12" lengthAdjust="spacingAndGlyphs">(20)</text>
<text x="72.70" y="705.20" fill="#43a047" stroke="#43a047" textLength="29.56" lengthAdjust="spacingAndGlyphs">−0.25</text>
<text x="1864.80" y="705.10" fill="#b2b5be" stroke="#b2b5be" textLength="23.27" lengthAdjust="spacingAndGlyphs">0.10</text>
<text x="1864.80" y="734.90" fill="#b2b5be" stroke="#b2b5be" textLength="23.27" lengthAdjust="spacingAndGlyphs">0.00</text>
<text x="1864.80" y="765.10" fill="#b2b5be" stroke="#b2b5be" textLength="29.56" lengthAdjust="spacingAndGlyphs">−0.10</text>
<text x="1864.80" y="795.10" fill="#b2b5be" stroke="#b2b5be" textLength="29.56" lengthAdjust="spacingAndGlyphs">−0.20</text>
<rect x="1856.8" y="708.3" width="37.3" height="16.5" fill="#ffffff" rx="1"/>
<text x="1864.80" y="720.90" fill="#131722" stroke="#131722" textLength="23.27" lengthAdjust="spacingAndGlyphs">0.05</text>
<rect x="1856.8" y="736.3" width="43.4" height="16.5" fill="#ffffff" rx="1"/>
<text x="1864.80" y="748.90" fill="#131722" stroke="#131722" textLength="29.56" lengthAdjust="spacingAndGlyphs">−0.05</text>
<g clip-path="url(#cd)">
<g shape-rendering="crispEdges">
<rect x="1" y="915" width="13" height="1" fill="#ffcdd2"/>
<rect x="15" y="915" width="12" height="1" fill="#ffcdd2"/>
<rect x="28" y="915" width="13" height="1" fill="#ffcdd2"/>
<rect x="42" y="915" width="12" height="1" fill="#ffcdd2"/>
<rect x="55" y="915" width="12" height="1" fill="#26a69a"/>
<rect x="68" y="915" width="13" height="1" fill="#26a69a"/>
<rect x="82" y="915" width="12" height="1" fill="#26a69a"/>
<rect x="95" y="915" width="12" height="1" fill="#26a69a"/>
<rect x="108" y="915" width="13" height="1" fill="#b2dfdb"/>
<rect x="122" y="915" width="12" height="1" fill="#b2dfdb"/>
<rect x="135" y="915" width="12" height="1" fill="#b2dfdb"/>
<rect x="148" y="915" width="13" height="1" fill="#b2dfdb"/>
<rect x="162" y="915" width="12" height="1" fill="#26a69a"/>
<rect x="175" y="915" width="12" height="1" fill="#26a69a"/>
<rect x="188" y="915" width="13" height="1" fill="#26a69a"/>
<rect x="202" y="915" width="12" height="1" fill="#b2dfdb"/>
<rect x="215" y="915" width="13" height="1" fill="#26a69a"/>
<rect x="229" y="915" width="12" height="1" fill="#26a69a"/>
<rect x="242" y="915" width="12" height="1" fill="#26a69a"/>
<rect x="255" y="915" width="13" height="1" fill="#26a69a"/>
<rect x="269" y="915" width="12" height="1" fill="#b2dfdb"/>
<rect x="282" y="915" width="12" height="1" fill="#b2dfdb"/>
<rect x="295" y="915" width="13" height="1" fill="#26a69a"/>
<rect x="309" y="914" width="12" height="2" fill="#26a69a"/>
<rect x="322" y="914" width="12" height="2" fill="#26a69a"/>
<rect x="335" y="914" width="13" height="2" fill="#26a69a"/>
<rect x="349" y="914" width="12" height="2" fill="#b2dfdb"/>
<rect x="362" y="914" width="12" height="2" fill="#b2dfdb"/>
<rect x="375" y="915" width="13" height="1" fill="#b2dfdb"/>
<rect x="389" y="915" width="12" height="1" fill="#ff5252"/>
<rect x="402" y="915" width="12" height="1" fill="#ff5252"/>
<rect x="415" y="915" width="13" height="1" fill="#ff5252"/>
<rect x="429" y="915" width="12" height="1" fill="#ff5252"/>
<rect x="442" y="915" width="13" height="1" fill="#ff5252"/>
<rect x="456" y="915" width="12" height="2" fill="#ff5252"/>
<rect x="469" y="915" width="12" height="2" fill="#ff5252"/>
<rect x="482" y="915" width="13" height="2" fill="#ff5252"/>
<rect x="496" y="915" width="12" height="2" fill="#ff5252"/>
<rect x="509" y="915" width="12" height="2" fill="#ff5252"/>
<rect x="522" y="915" width="13" height="2" fill="#ff5252"/>
<rect x="536" y="915" width="12" height="2" fill="#ff5252"/>
<rect x="549" y="915" width="12" height="2" fill="#ffcdd2"/>
<rect x="562" y="915" width="13" height="2" fill="#ffcdd2"/>
<rect x="576" y="915" width="12" height="2" fill="#ffcdd2"/>
<rect x="589" y="915" width="12" height="2" fill="#ffcdd2"/>
<rect x="602" y="915" width="13" height="2" fill="#ff5252"/>
<rect x="616" y="915" width="12" height="2" fill="#ffcdd2"/>
<rect x="629" y="915" width="13" height="1" fill="#ffcdd2"/>
<rect x="643" y="915" width="12" height="1" fill="#ffcdd2"/>
<rect x="656" y="915" width="12" height="1" fill="#26a69a"/>
<rect x="669" y="915" width="13" height="1" fill="#b2dfdb"/>
<rect x="683" y="915" width="12" height="1" fill="#ff5252"/>
<rect x="696" y="915" width="12" height="1" fill="#ffcdd2"/>
<rect x="709" y="915" width="13" height="1" fill="#26a69a"/>
<rect x="723" y="915" width="12" height="1" fill="#26a69a"/>
<rect x="736" y="915" width="12" height="1" fill="#26a69a"/>
<rect x="749" y="915" width="13" height="1" fill="#26a69a"/>
<rect x="763" y="915" width="12" height="1" fill="#b2dfdb"/>
<rect x="776" y="915" width="12" height="1" fill="#b2dfdb"/>
<rect x="789" y="915" width="13" height="1" fill="#b2dfdb"/>
<rect x="803" y="915" width="12" height="1" fill="#26a69a"/>
<rect x="816" y="915" width="12" height="1" fill="#b2dfdb"/>
<rect x="829" y="915" width="13" height="1" fill="#b2dfdb"/>
<rect x="843" y="915" width="12" height="1" fill="#ff5252"/>
<rect x="856" y="914" width="13" height="2" fill="#26a69a"/>
<rect x="870" y="914" width="12" height="2" fill="#26a69a"/>
<rect x="883" y="914" width="12" height="2" fill="#26a69a"/>
<rect x="896" y="910" width="13" height="6" fill="#26a69a"/>
<rect x="910" y="907" width="12" height="9" fill="#26a69a"/>
<rect x="923" y="906" width="12" height="10" fill="#26a69a"/>
<rect x="936" y="904" width="13" height="12" fill="#26a69a"/>
<rect x="950" y="904" width="12" height="12" fill="#b2dfdb"/>
<rect x="963" y="904" width="12" height="12" fill="#b2dfdb"/>
<rect x="976" y="898" width="13" height="18" fill="#26a69a"/>
<rect x="990" y="894" width="12" height="22" fill="#26a69a"/>
<rect x="1003" y="887" width="12" height="29" fill="#26a69a"/>
<rect x="1016" y="883" width="13" height="33" fill="#26a69a"/>
<rect x="1030" y="885" width="12" height="31" fill="#b2dfdb"/>
<rect x="1043" y="891" width="13" height="25" fill="#b2dfdb"/>
<rect x="1057" y="893" width="12" height="23" fill="#b2dfdb"/>
<rect x="1070" y="895" width="12" height="21" fill="#b2dfdb"/>
<rect x="1083" y="899" width="13" height="17" fill="#b2dfdb"/>
<rect x="1097" y="905" width="12" height="11" fill="#b2dfdb"/>
<rect x="1110" y="913" width="12" height="3" fill="#b2dfdb"/>
<rect x="1123" y="915" width="13" height="2" fill="#ff5252"/>
<rect x="1137" y="915" width="12" height="3" fill="#ff5252"/>
<rect x="1150" y="915" width="12" height="6" fill="#ff5252"/>
<rect x="1163" y="915" width="13" height="10" fill="#ff5252"/>
<rect x="1177" y="915" width="12" height="12" fill="#ff5252"/>
<rect x="1190" y="915" width="12" height="13" fill="#ff5252"/>
<rect x="1203" y="915" width="13" height="16" fill="#ff5252"/>
<rect x="1217" y="915" width="12" height="18" fill="#ff5252"/>
<rect x="1230" y="915" width="12" height="22" fill="#ff5252"/>
<rect x="1243" y="915" width="13" height="21" fill="#ffcdd2"/>
<rect x="1257" y="915" width="12" height="20" fill="#ffcdd2"/>
<rect x="1270" y="915" width="13" height="19" fill="#ffcdd2"/>
<rect x="1284" y="915" width="12" height="18" fill="#ffcdd2"/>
<rect x="1297" y="915" width="12" height="16" fill="#ffcdd2"/>
</g>
<line x1="10" y1="915.5" x2="1856" y2="915.5" stroke="#787b86" stroke-width="1" stroke-dasharray="5 6" opacity="0.55"/>
<polyline points="10.7,915.2 60.0,915.0 100.0,914.6 130.0,914.3 200.0,913.7 300.0,912.8 340.0,912.7 400.0,913.6 450.0,914.4 520.0,915.0 600.0,915.1 700.0,914.5 760.0,914.2 800.0,914.2 850.0,914.2 863.0,914.0 876.0,913.6 889.0,912.5 903.0,907.5 916.0,901.8 929.0,897.9 943.0,893.5 956.0,890.7 969.0,888.7 983.0,877.3 996.0,868.8 1009.0,853.8 1023.0,841.9 1036.0,836.3 1050.0,837.2 1063.0,832.8 1076.0,830.2 1090.0,829.7 1103.0,833.5 1116.0,840.5 1130.0,843.5 1143.0,846.2 1156.0,850.2 1170.0,855.8 1183.0,860.8 1196.0,866.0 1210.0,872.0 1223.0,878.4 1236.0,886.3 1250.0,889.6 1263.0,893.3 1277.0,896.9 1290.0,900.2 1303.0,903.2" fill="none" stroke="#2962ff" stroke-width="1.1" stroke-linejoin="round"/>
<polyline points="10.7,915.1 60.0,915.0 100.0,914.7 130.0,914.4 200.0,913.9 300.0,913.2 380.0,913.4 450.0,914.0 520.0,914.5 600.0,914.8 700.0,914.7 800.0,914.5 850.0,914.4 863.0,914.4 876.0,914.3 889.0,913.8 903.0,912.2 916.0,909.8 929.0,907.5 943.0,904.9 956.0,902.0 969.0,899.2 983.0,894.9 996.0,889.4 1009.0,882.3 1023.0,874.6 1036.0,867.1 1050.0,861.1 1063.0,855.5 1076.0,850.2 1090.0,846.8 1103.0,844.1 1116.0,843.2 1130.0,843.5 1143.0,844.1 1156.0,845.5 1170.0,847.8 1183.0,850.8 1196.0,853.8 1210.0,857.1 1223.0,861.8 1236.0,867.1 1250.0,872.4 1263.0,877.3 1277.0,881.4 1290.0,885.0 1303.0,888.0" fill="none" stroke="#ff6d00" stroke-width="1.1" stroke-linejoin="round"/>
</g>
<text x="18.10" y="836.20" fill="#b2b5be" stroke="#b2b5be" textLength="30.12" lengthAdjust="spacingAndGlyphs">MACD</text>
<text x="51.83" y="836.20" fill="#b2b5be" stroke="#b2b5be" textLength="21.38" lengthAdjust="spacingAndGlyphs">(12,</text>
<text x="76.83" y="836.20" fill="#b2b5be" stroke="#b2b5be" textLength="16.98" lengthAdjust="spacingAndGlyphs">26,</text>
<text x="97.42" y="836.20" fill="#b2b5be" stroke="#b2b5be" textLength="31.73" lengthAdjust="spacingAndGlyphs">close)</text>
<text x="136.45" y="836.20" fill="#ffcdd2" stroke="#ffcdd2" textLength="54.71" lengthAdjust="spacingAndGlyphs">−0.001423</text>
<text x="198.46" y="836.20" fill="#2962ff" stroke="#2962ff" textLength="48.42" lengthAdjust="spacingAndGlyphs">0.001137</text>
<text x="254.18" y="836.20" fill="#ff6d00" stroke="#ff6d00" textLength="48.42" lengthAdjust="spacingAndGlyphs">0.002560</text>
<text x="1865.00" y="866.90" fill="#b2b5be" stroke="#b2b5be" textLength="48.42" lengthAdjust="spacingAndGlyphs">0.005000</text>
<text x="1865.00" y="919.90" fill="#b2b5be" stroke="#b2b5be" textLength="48.42" lengthAdjust="spacingAndGlyphs">0.000000</text>
<g clip-path="url(#ct)">
<text x="7.70" y="964.70" fill="#c5c8d0" stroke="#c5c8d0" text-anchor="middle" textLength="12.58" lengthAdjust="spacingAndGlyphs">11</text>
<text x="100.70" y="964.70" fill="#c5c8d0" stroke="#c5c8d0" text-anchor="middle" textLength="12.58" lengthAdjust="spacingAndGlyphs">18</text>
<text x="194.70" y="964.70" fill="#c5c8d0" stroke="#c5c8d0" text-anchor="middle" textLength="12.58" lengthAdjust="spacingAndGlyphs">25</text>
<text x="274.70" y="964.70" fill="#c5c8d0" stroke="#c5c8d0" text-anchor="middle" textLength="19.84" lengthAdjust="spacingAndGlyphs">Dec</text>
<text x="381.70" y="964.70" fill="#c5c8d0" stroke="#c5c8d0" text-anchor="middle" textLength="6.29" lengthAdjust="spacingAndGlyphs">9</text>
<text x="474.70" y="964.70" fill="#c5c8d0" stroke="#c5c8d0" text-anchor="middle" textLength="12.58" lengthAdjust="spacingAndGlyphs">16</text>
<text x="568.70" y="964.70" fill="#c5c8d0" stroke="#c5c8d0" text-anchor="middle" textLength="12.58" lengthAdjust="spacingAndGlyphs">23</text>
<text x="688.70" y="964.70" fill="#c5c8d0" stroke="#c5c8d0" text-anchor="middle" font-weight="bold" textLength="27.42" lengthAdjust="spacingAndGlyphs" stroke-width="0">2025</text>
<text x="768.70" y="964.70" fill="#c5c8d0" stroke="#c5c8d0" text-anchor="middle" textLength="6.29" lengthAdjust="spacingAndGlyphs">7</text>
<text x="848.70" y="964.70" fill="#c5c8d0" stroke="#c5c8d0" text-anchor="middle" textLength="12.58" lengthAdjust="spacingAndGlyphs">13</text>
<text x="942.70" y="964.70" fill="#c5c8d0" stroke="#c5c8d0" text-anchor="middle" textLength="12.58" lengthAdjust="spacingAndGlyphs">20</text>
<text x="1022.70" y="964.70" fill="#c5c8d0" stroke="#c5c8d0" text-anchor="middle" textLength="12.58" lengthAdjust="spacingAndGlyphs">26</text>
<text x="1102.70" y="964.70" fill="#c5c8d0" stroke="#c5c8d0" text-anchor="middle" textLength="19.52" lengthAdjust="spacingAndGlyphs">Feb</text>
<text x="1222.70" y="964.70" fill="#c5c8d0" stroke="#c5c8d0" text-anchor="middle" textLength="12.58" lengthAdjust="spacingAndGlyphs">10</text>
<text x="1316.70" y="964.70" fill="#c5c8d0" stroke="#c5c8d0" text-anchor="middle" textLength="12.58" lengthAdjust="spacingAndGlyphs">17</text>
<text x="1396.70" y="964.70" fill="#c5c8d0" stroke="#c5c8d0" text-anchor="middle" textLength="12.58" lengthAdjust="spacingAndGlyphs">23</text>
<text x="1476.70" y="964.70" fill="#c5c8d0" stroke="#c5c8d0" text-anchor="middle" textLength="19.48" lengthAdjust="spacingAndGlyphs">Mar</text>
<text x="1596.70" y="964.70" fill="#c5c8d0" stroke="#c5c8d0" text-anchor="middle" textLength="12.58" lengthAdjust="spacingAndGlyphs">10</text>
<text x="1690.70" y="964.70" fill="#c5c8d0" stroke="#c5c8d0" text-anchor="middle" textLength="12.58" lengthAdjust="spacingAndGlyphs">17</text>
<text x="1783.70" y="964.70" fill="#c5c8d0" stroke="#c5c8d0" text-anchor="middle" textLength="12.58" lengthAdjust="spacingAndGlyphs">24</text>
</g>
<text x="9.90" y="19.40" fill="#e4e4e4" stroke="#e4e4e4" textLength="77.58" lengthAdjust="spacingAndGlyphs">AMBCrypto_TA</text>
<text x="91.06" y="19.40" fill="#e4e4e4" stroke="#e4e4e4" textLength="51.00" lengthAdjust="spacingAndGlyphs">published</text>
<text x="145.64" y="19.40" fill="#e4e4e4" stroke="#e4e4e4" textLength="12.87" lengthAdjust="spacingAndGlyphs">on</text>
<text x="162.08" y="19.40" fill="#e4e4e4" stroke="#e4e4e4" textLength="96.73" lengthAdjust="spacingAndGlyphs">TradingView.com,</text>
<text x="262.39" y="19.40" fill="#e4e4e4" stroke="#e4e4e4" textLength="19.33" lengthAdjust="spacingAndGlyphs">Feb</text>
<text x="285.29" y="19.40" fill="#e4e4e4" stroke="#e4e4e4" textLength="16.81" lengthAdjust="spacingAndGlyphs">16,</text>
<text x="305.68" y="19.40" fill="#e4e4e4" stroke="#e4e4e4" textLength="24.90" lengthAdjust="spacingAndGlyphs">2025</text>
<text x="334.16" y="19.40" fill="#e4e4e4" stroke="#e4e4e4" textLength="29.26" lengthAdjust="spacingAndGlyphs">07:24</text>
<text x="366.99" y="19.40" fill="#e4e4e4" stroke="#e4e4e4" textLength="21.71" lengthAdjust="spacingAndGlyphs">UTC</text>
<g fill="#d9d9d9"><path d="M10.1 987.1H18.1V996.8H13.7V991.1H10.1Z"/><circle cx="21.1" cy="988.8" r="1.75"/><path d="M24.4 987.1H29.8L25.6 996.8H20.6Z"/></g>
<text x="32.80" y="996.70" fill="#d9d9d9" stroke="#d9d9d9" font-size="13" textLength="70.70" lengthAdjust="spacingAndGlyphs" stroke-width="0.5">TradingView</text>
</svg>
</body></html>
